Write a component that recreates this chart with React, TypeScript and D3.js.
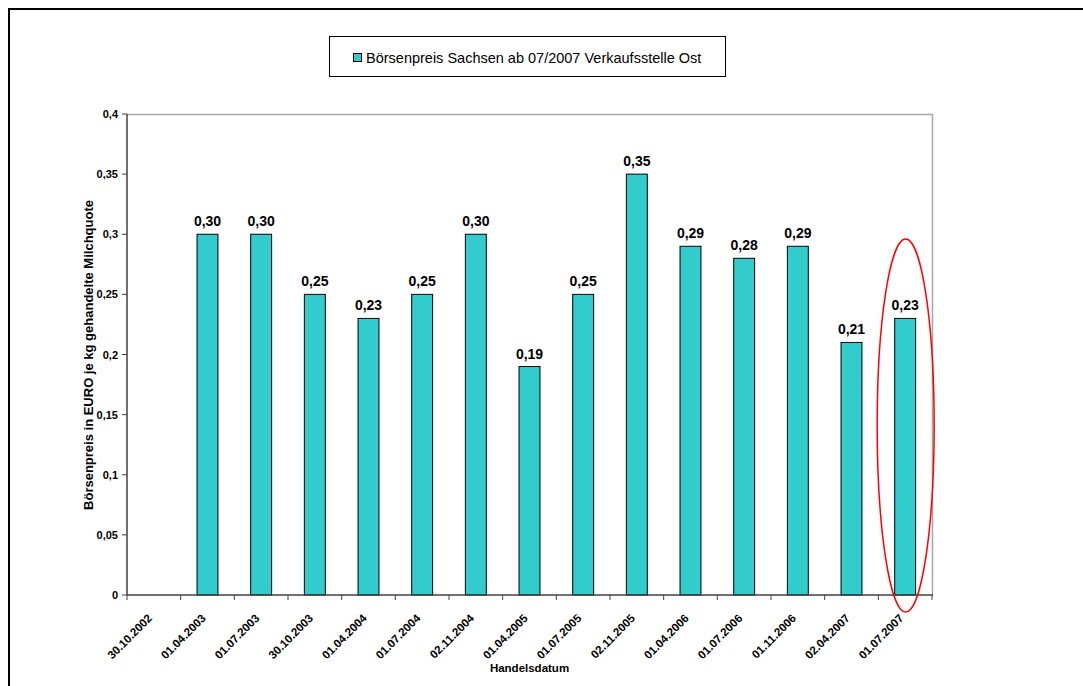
import React from "react";
import * as d3 from "d3";

const categories = [
  "30.10.2002", "01.04.2003", "01.07.2003", "30.10.2003", "01.04.2004",
  "01.07.2004", "02.11.2004", "01.04.2005", "01.07.2005", "02.11.2005",
  "01.04.2006", "01.07.2006", "01.11.2006", "02.04.2007", "01.07.2007",
];
const values: (number | null)[] = [
  null, 0.30, 0.30, 0.25, 0.23, 0.25, 0.30, 0.19, 0.25, 0.35, 0.29, 0.28, 0.29, 0.21, 0.23,
];
const yTicks = [0, 0.05, 0.1, 0.15, 0.2, 0.25, 0.3, 0.35, 0.4];
const seriesName = "Börsenpreis Sachsen ab 07/2007 Verkaufsstelle Ost";
const yTitle = "Börsenpreis in EURO je kg gehandelte Milchquote";
const xTitle = "Handelsdatum";

const W = 1083, H = 686;
const left = 127, right = 932, top = 114, bottom = 595;
const FONT = "'Liberation Sans', Arial, sans-serif";
const fillColor = "#33CCCC";

export default function App() {
  const x = d3.scaleBand<string>().domain(categories).range([left, right]).padding(0);
  const y = d3.scaleLinear().domain([0, 0.4]).range([bottom, top]);
  const barW = x.bandwidth() * 0.39;
  const fmtTick = (v: number) => String(+v.toFixed(2)).replace(".", ",");
  const fmtVal = (v: number) => v.toFixed(2).replace(".", ",");
  const lastCat = categories[categories.length - 1];
  const ellCx = (x(lastCat) as number) + x.bandwidth() / 2 + 0.5;
  const ellTop = y(0.296), ellBot = bottom + 17;

  return (
    <svg width={W} height={H} style={{ position: "absolute", left: 0, top: 0, background: "#fff" }} fontFamily={FONT}>
      <rect x={0} y={0} width={W} height={H} fill="#fff" />
      <rect x={9} y={9} width={W + 20} height={H + 20} fill="none" stroke="#000" strokeWidth={2} />

      {/* legend */}
      <rect x={329.5} y={36.5} width={396} height={40} fill="#fff" stroke="#000" strokeWidth={1} />
      <rect x={353.5} y={53.5} width={8} height={8} fill={fillColor} stroke="#000" strokeWidth={1} />
      <text x={366} y={62.5} fontSize={14.5} fill="#000">{seriesName}</text>

      {/* plot frame */}
      <line x1={left} x2={right} y1={top + 0.5} y2={top + 0.5} stroke="#a6a6a6" strokeWidth={1.5} />
      <line x1={right + 0.5} x2={right + 0.5} y1={top} y2={bottom} stroke="#a6a6a6" strokeWidth={1.5} />

      {/* bars */}
      {categories.map((c, i) => {
        const v = values[i];
        if (v == null) return null;
        const cx = (x(c) as number) + x.bandwidth() / 2;
        return (
          <g key={c}>
            <rect x={cx - barW / 2} y={y(v)} width={barW} height={bottom - y(v)} fill={fillColor} stroke="#000" strokeWidth={1} />
            <text x={cx} y={y(v) - 8} textAnchor="middle" fontSize={14} fontWeight="bold" fill="#000">{fmtVal(v)}</text>
          </g>
        );
      })}

      {/* y axis */}
      <line x1={left} x2={left} y1={top} y2={bottom} stroke="#404040" strokeWidth={1.5} />
      {yTicks.map((t) => (
        <g key={t}>
          <line x1={left - 5} x2={left} y1={y(t)} y2={y(t)} stroke="#404040" strokeWidth={1} />
          <text x={left - 9} y={y(t) + 4} textAnchor="end" fontSize={11} fontWeight="bold" fill="#000">{fmtTick(t)}</text>
        </g>
      ))}

      {/* x axis */}
      <line x1={left} x2={right + 1} y1={bottom} y2={bottom} stroke="#404040" strokeWidth={1.5} />
      {categories.map((c) => (
        <line key={"t" + c} x1={x(c) as number} x2={x(c) as number} y1={bottom} y2={bottom + 5} stroke="#404040" strokeWidth={1} />
      ))}
      <line x1={right} x2={right} y1={bottom} y2={bottom + 5} stroke="#404040" strokeWidth={1} />
      {categories.map((c) => {
        const cx = (x(c) as number) + x.bandwidth() / 2 - 1;
        const cy = bottom + 24;
        return (
          <text key={"l" + c} x={cx} y={cy} transform={`rotate(-45 ${cx} ${cy})`} textAnchor="end" fontSize={11.5} fontWeight="bold" fill="#000">{c}</text>
        );
      })}

      {/* axis titles */}
      <text x={(left + right) / 2} y={672} textAnchor="middle" fontSize={11.5} fontWeight="bold" fill="#000">{xTitle}</text>
      <text transform={`translate(93, ${355}) rotate(-90)`} textAnchor="middle" fontSize={13} fontWeight="bold" fill="#000">{yTitle}</text>

      {/* annotation */}
      <ellipse cx={ellCx} cy={(ellTop + ellBot) / 2} rx={28.5} ry={(ellBot - ellTop) / 2} fill="none" stroke="#ff0000" strokeWidth={1.5} />
    </svg>
  );
}
